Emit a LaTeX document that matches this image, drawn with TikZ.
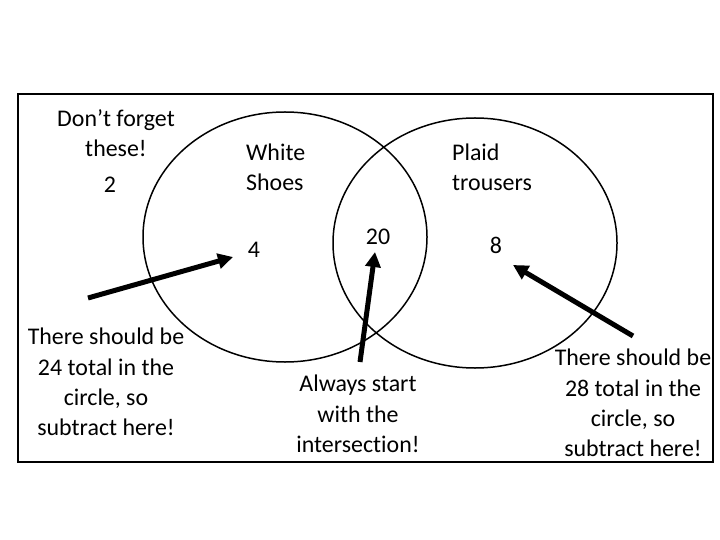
\documentclass[tikz,border=0pt]{standalone}
\usepackage{fontspec}
\setmainfont{Carlito}[Ligatures=NoCommon]
\usetikzlibrary{arrows.meta}
\begin{document}
\begin{tikzpicture}[x=1bp,y=-1bp,
  lbl/.style={font=\fontsize{24}{30.5}\selectfont, inner sep=0pt, align=center},
  lbll/.style={font=\fontsize{24}{30.5}\selectfont, inner sep=0pt, align=left, anchor=west},
  bigarrow/.style={line width=5bp, -{Triangle[length=15bp,width=15bp]}},
  ring/.style={line width=1.5bp}]
\useasboundingbox (0,0) rectangle (720,540);
\draw[line width=2bp] (18,94) rectangle (713,462);
\draw[ring] (285,237) ellipse [x radius=142bp, y radius=125bp];
\draw[ring] (475,243) ellipse [x radius=142bp, y radius=125bp];
\node[lbl] (forget) at (116,133) {Don’t forget\\these!};
\node[lbl] (two) at (110,185) {2};
\node[lbll] (white) at (246,167) {White\\Shoes};
\node[lbl] (four) at (254,250) {4};
\node[lbl] (twenty) at (378,237) {20};
\node[lbll] (plaid) at (452,167) {Plaid\\trousers};
\node[lbl] (eight) at (496,245) {8};
\node[lbl] (left) at (106,382) {There should be\\24 total in the\\circle, so\\subtract here!};
\node[lbl] (mid) at (358,414) {Always start\\with the\\intersection!};
\node[lbl] (right) at (633,403) {There should be\\28 total in the\\circle, so\\subtract here!};
\coordinate (la) at (88,298);
\coordinate (lb) at (233,257);
\coordinate (ma) at (360,362);
\coordinate (mb) at (375,252);
\coordinate (ra) at (633,336);
\coordinate (rb) at (513,265);
\draw[bigarrow] (la) -- (lb);
\draw[bigarrow] (ma) -- (mb);
\draw[bigarrow] (ra) -- (rb);
\end{tikzpicture}
\end{document}
